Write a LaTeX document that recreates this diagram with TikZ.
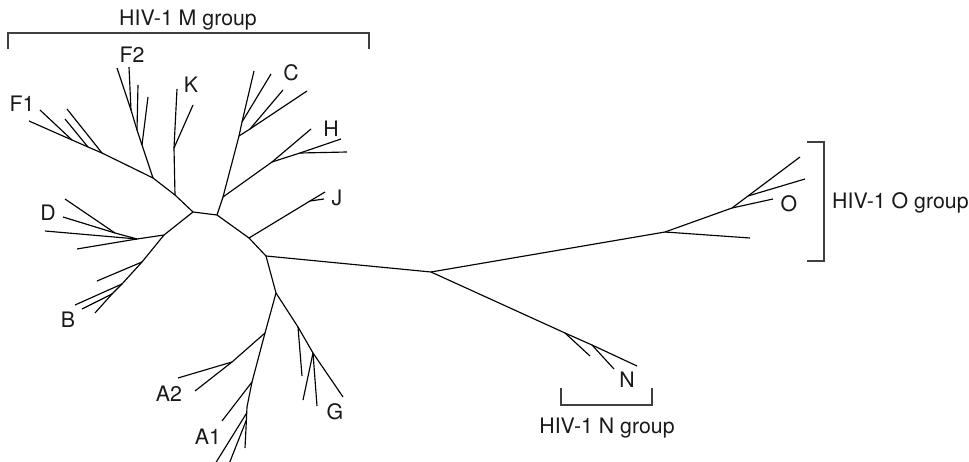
\documentclass[tikz,border=0pt]{standalone}
\usepackage{fontspec}
\setmainfont{TeX Gyre Heros}
\usepackage{tikz}
\usetikzlibrary{positioning}

\begin{document}
\begin{tikzpicture}[
  x=1pt, y=-1pt,
  font=\fontsize{21.3}{25}\selectfont,
  branch/.style  = {draw, line width=1.15pt, black},
  bracket/.style = {draw, line width=1.1pt, black!75},
  clade/.style   = {anchor=base, inner sep=0pt, text=black!90},
  grouplab/.style= {anchor=base, inner sep=0pt, text=black!90},
]
\useasboundingbox (0,0) rectangle (969,462);

%% Backbone of the M group
\coordinate (m1) at (193,212);
\coordinate (m2) at (217,215);
\coordinate (m3) at (249,238);
\coordinate (m4) at (266,256);
\coordinate (m5) at (276,293);
\draw[branch] (m1) -- (m2) -- (m3) -- (m4) -- (m5);

%% F1, F2 and K
\coordinate (k0)   at (175,195);
\coordinate (f2r)  at (153,178);
\coordinate (f1r)  at (102,153);
\coordinate (f1n1) at (88,147);
\coordinate (f1n2) at (72,140);
\coordinate (f1a)  at (29,121);
\coordinate (f1b)  at (65,119);
\coordinate (f1c)  at (40,110);
\coordinate (f1d)  at (67,109);
\draw[branch] (m1) -- (k0) -- (f2r) -- (f1r) -- (f1n1) -- (f1n2) -- (f1a);
\draw[branch] (f1n1) -- (f1b);
\draw[branch] (f1n2) -- (f1c);
\draw[branch] (f1r) -- (f1d);

\coordinate (f2n1) at (142,145);
\coordinate (f2n2) at (137,130);
\coordinate (f2n3) at (131,110);
\coordinate (f2a)  at (117,68);
\coordinate (f2b)  at (148,97);
\coordinate (f2c)  at (138,85);
\coordinate (f2d)  at (129,67);
\draw[branch] (f2r) -- (f2n1) -- (f2n2) -- (f2n3) -- (f2a);
\draw[branch] (f2n1) -- (f2b);
\draw[branch] (f2n2) -- (f2c);
\draw[branch] (f2n3) -- (f2d);

\coordinate (kn) at (174,148);
\coordinate (ka) at (177,89);
\coordinate (kb) at (193,105);
\draw[branch] (k0) -- (kn) -- (ka);
\draw[branch] (kn) -- (kb);

%% C and H
\coordinate (h0) at (223,197);
\coordinate (c1) at (239,136);
\coordinate (c2) at (250,129);
\coordinate (c3) at (242,122);
\coordinate (ca) at (254,71);
\coordinate (cb) at (283,90);
\coordinate (cc) at (307,91);
\coordinate (cd) at (271,74);
\draw[branch] (m2) -- (h0) -- (c1) -- (c3) -- (ca);
\draw[branch] (c1) -- (c2) -- (cc);
\draw[branch] (c2) -- (cb);
\draw[branch] (c3) -- (cd);

\coordinate (h1) at (272,162);
\coordinate (h2) at (300,153);
\coordinate (ha) at (311,129);
\coordinate (hb) at (341,139);
\coordinate (hc) at (347,152);
\draw[branch] (h0) -- (h1) -- (ha);
\draw[branch] (h1) -- (h2) -- (hb);
\draw[branch] (h2) -- (hc);

%% J
\coordinate (j1) at (310,201);
\coordinate (ja) at (325,192);
\coordinate (jb) at (324,199);
\draw[branch] (m3) -- (j1) -- (ja);
\draw[branch] (j1) -- (jb);

%% D and B
\coordinate (db)  at (164,235);
\coordinate (d0)  at (137,239);
\coordinate (d1)  at (115,233);
\coordinate (dl1) at (65,199);
\coordinate (dl2) at (63,217);
\coordinate (dl3) at (45,231);
\coordinate (dl4) at (77,249);
\draw[branch] (m1) -- (db) -- (d0) -- (d1) -- (dl2);
\draw[branch] (d1) -- (dl1);
\draw[branch] (d0) -- (dl3);
\draw[branch] (d0) -- (dl4);

\coordinate (b1)  at (142,262);
\coordinate (b2)  at (122,284);
\coordinate (b3)  at (112,294);
\coordinate (bl1) at (97,281);
\coordinate (bl2) at (75,305);
\coordinate (bl3) at (82,309);
\coordinate (bl4) at (95,313);
\draw[branch] (db) -- (b1) -- (b2) -- (b3) -- (bl4);
\draw[branch] (b1) -- (bl1);
\draw[branch] (b2) -- (bl2);
\draw[branch] (b3) -- (bl3);

%% A1 and A2
\coordinate (a1)  at (265,333);
\coordinate (a2)  at (252,382);
\coordinate (a3)  at (247,407);
\coordinate (a4)  at (246.7,413);
\coordinate (a5)  at (246.4,420);
\coordinate (a6)  at (232,362);
\coordinate (al1) at (178,378);
\coordinate (al2) at (195,391);
\coordinate (al3) at (222,421);
\coordinate (al4) at (245,448);
\coordinate (al5) at (215,464);
\coordinate (al6) at (229,464);
\draw[branch] (m5) -- (a1) -- (a2) -- (a3) -- (a4) -- (a5) -- (al4);
\draw[branch] (a1) -- (a6) -- (al1);
\draw[branch] (a6) -- (al2);
\draw[branch] (a2) -- (al3);
\draw[branch] (a4) -- (al5);
\draw[branch] (a5) -- (al6);

%% G
\coordinate (g1)  at (298,327);
\coordinate (g2)  at (313,353);
\coordinate (gl1) at (343,397);
\coordinate (gl2) at (302,376);
\coordinate (gl3) at (303,400);
\coordinate (gl4) at (317,406);
\draw[branch] (m5) -- (g1) -- (g2) -- (gl1);
\draw[branch] (g1) -- (gl2);
\draw[branch] (g2) -- (gl3);
\draw[branch] (g2) -- (gl4);

%% Long branch to the O and N groups
\coordinate (ctr) at (431,272);
\draw[branch] (m4) -- (ctr);

\coordinate (o0) at (665,232);
\coordinate (o1) at (732,208);
\coordinate (o2) at (748,196);
\coordinate (oa) at (750,238);
\coordinate (ob) at (773,199);
\coordinate (oc) at (800,157);
\coordinate (od) at (805,179);
\draw[branch] (ctr) -- (o0) -- (o1) -- (o2) -- (oc);
\draw[branch] (o0) -- (oa);
\draw[branch] (o1) -- (ob);
\draw[branch] (o2) -- (od);

\coordinate (n1) at (565,333);
\coordinate (n2) at (592,345);
\coordinate (na) at (637,366);
\coordinate (nb) at (590,356);
\coordinate (nc) at (614,369);
\draw[branch] (ctr) -- (n1) -- (n2) -- (na);
\draw[branch] (n1) -- (nb);
\draw[branch] (n2) -- (nc);

%% Subtype labels
\node[clade] (labF2) at (132,63)  {F2};
\node[clade] (labK)  at (191,93)  {K};
\node[clade] (labF1) at (22,112)  {F1};
\node[clade] (labC)  at (291,81)  {C};
\node[clade] (labH)  at (331,137) {H};
\node[clade] (labJ)  at (337,206) {J};
\node[clade] (labD)  at (48,221)  {D};
\node[clade] (labB)  at (68,327)  {B};
\node[clade] (labA2) at (169,401) {A2};
\node[clade] (labA1) at (208,444) {A1};
\node[clade] (labG)  at (335,419) {G};
\node[clade] (labN)  at (627,387) {N};
\node[clade] (labO)  at (789,212) {O};

%% Group brackets
\coordinate (mbl) at (8,33);
\coordinate (mbr) at (369,33);
\draw[bracket] (mbl) ++(0,16) -- (mbl) -- (mbr) -- ++(0,16);
\node[grouplab] (grpM) at (188,26) {HIV-1 M group};

\coordinate (obt) at (824,142);
\coordinate (obb) at (824,261);
\draw[bracket] (obt) ++(-17,0) -- (obt) -- (obb) -- ++(-17,0);
\node[grouplab, anchor=base west] (grpO) at (832,209) {HIV-1 O group};

\coordinate (nbl) at (561,405);
\coordinate (nbr) at (652,405);
\draw[bracket] (nbl) ++(0,-17) -- (nbl) -- (nbr) -- ++(0,-17);
\node[grouplab] (grpN) at (607,433) {HIV-1 N group};

\end{tikzpicture}
\end{document}
